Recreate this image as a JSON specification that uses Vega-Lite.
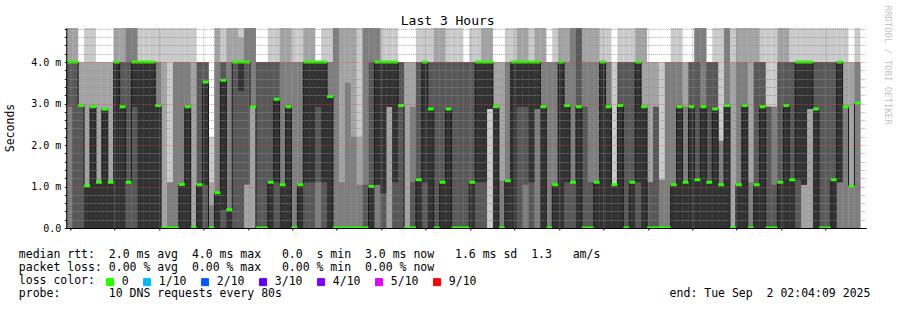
{
"$schema": "https://vega.github.io/schema/vega-lite/v6.json",
"width": 800, "height": 200,
"autosize": {"type": "none"},
"padding": {"left": 66.3, "top": 28, "right": 30.7, "bottom": 82},
"background": "white",
"view": {"stroke": null},
"title": {"text": "Last 3 Hours", "font": "DejaVu Sans Mono", "fontSize": 13, "fontWeight": "normal", "color": "black", "anchor": "middle", "frame": "group", "dx": -18.6, "dy": 37, "baseline": "alphabetic", "offset": 3.7},
"data": {"values": [
{"i":0,"j":1,"p1":0,"p2":0,"p3":0,"p4":2.92,"p5":4,"p6":4,"p7":4,"p8":4,"p9":5,"p10":5,"l":0},
{"i":1,"j":2,"p1":0,"p2":0,"p3":0,"p4":0,"p5":4,"p6":4,"p7":4,"p8":4,"p9":5,"p10":5,"l":0},
{"i":2,"j":3,"p1":0,"p2":0,"p3":0,"p4":0,"p5":2.95,"p6":2.95,"p7":2.95,"p8":2.95,"p9":4,"p10":4,"l":0},
{"i":3,"j":4,"p1":0,"p2":0,"p3":0,"p4":0,"p5":0,"p6":1.02,"p7":1.02,"p8":1.02,"p9":4,"p10":5,"l":0},
{"i":4,"j":5,"p1":0,"p2":0,"p3":0,"p4":0,"p5":0,"p6":2.92,"p7":2.92,"p8":2.92,"p9":4,"p10":5,"l":0},
{"i":5,"j":6,"p1":0,"p2":0,"p3":0,"p4":0,"p5":0,"p6":1.1,"p7":1.1,"p8":1.1,"p9":4,"p10":4,"l":0},
{"i":6,"j":7,"p1":0,"p2":0,"p3":0,"p4":0,"p5":0,"p6":2.86,"p7":2.86,"p8":2.86,"p9":4,"p10":4,"l":0},
{"i":7,"j":8,"p1":0,"p2":0,"p3":0,"p4":0,"p5":0,"p6":1.1,"p7":1.1,"p8":1.1,"p9":4,"p10":4,"l":0},
{"i":8,"j":9,"p1":0,"p2":0,"p3":0,"p4":0,"p5":0,"p6":4,"p7":4,"p8":4,"p9":5,"p10":5,"l":0},
{"i":9,"j":10,"p1":0,"p2":0,"p3":0,"p4":0,"p5":0,"p6":2.92,"p7":4,"p8":4,"p9":5,"p10":5,"l":0},
{"i":10,"j":11,"p1":0,"p2":0,"p3":0,"p4":0,"p5":1.1,"p6":1.1,"p7":4,"p8":5,"p9":5,"p10":5,"l":0},
{"i":11,"j":12,"p1":0,"p2":0,"p3":0,"p4":0,"p5":2.92,"p6":4,"p7":4,"p8":5,"p9":5,"p10":5,"l":0},
{"i":12,"j":13,"p1":0,"p2":0,"p3":0,"p4":0,"p5":0,"p6":4,"p7":4,"p8":4,"p9":4,"p10":5,"l":0},
{"i":13,"j":14,"p1":0,"p2":0,"p3":0,"p4":0,"p5":0,"p6":4,"p7":4,"p8":4,"p9":4,"p10":5,"l":0},
{"i":14,"j":15,"p1":0,"p2":0,"p3":0,"p4":0,"p5":0,"p6":4,"p7":4,"p8":4,"p9":4,"p10":5,"l":0},
{"i":15,"j":16,"p1":0,"p2":0,"p3":0,"p4":0,"p5":0,"p6":2.95,"p7":2.95,"p8":4,"p9":4,"p10":5,"l":0},
{"i":16,"j":17,"p1":0,"p2":0,"p3":0,"p4":0,"p5":0,"p6":0,"p7":0,"p8":0,"p9":4,"p10":5,"l":0},
{"i":17,"j":18,"p1":0,"p2":0,"p3":0,"p4":0,"p5":0,"p6":0,"p7":0,"p8":1.1,"p9":1.1,"p10":5,"l":0},
{"i":18,"j":19,"p1":0,"p2":0,"p3":0,"p4":0,"p5":0,"p6":0,"p7":0,"p8":4,"p9":4,"p10":5,"l":0},
{"i":19,"j":20,"p1":0,"p2":0,"p3":0,"p4":0,"p5":0,"p6":1.05,"p7":1.05,"p8":4,"p9":4,"p10":5,"l":0},
{"i":20,"j":21,"p1":0,"p2":0,"p3":0,"p4":0,"p5":0,"p6":2.92,"p7":2.92,"p8":4,"p9":4,"p10":5,"l":0},
{"i":21,"j":22,"p1":0,"p2":0,"p3":0,"p4":0,"p5":0,"p6":0,"p7":0,"p8":0,"p9":4,"p10":5,"l":0},
{"i":22,"j":23,"p1":0,"p2":0,"p3":0,"p4":0,"p5":0,"p6":1.04,"p7":4,"p8":4,"p9":4,"p10":4,"l":0},
{"i":23,"j":24,"p1":0,"p2":0,"p3":0,"p4":0,"p5":1.04,"p6":3.52,"p7":4,"p8":4,"p9":4,"p10":4,"l":0},
{"i":24,"j":25,"p1":0,"p2":0,"p3":0,"p4":0,"p5":0,"p6":0,"p7":0,"p8":0.55,"p9":1.1,"p10":2.2,"l":0},
{"i":25,"j":26,"p1":0,"p2":0,"p3":0,"p4":0,"p5":0,"p6":0.85,"p7":0.85,"p8":4,"p9":5,"p10":5,"l":0},
{"i":26,"j":27,"p1":0,"p2":0,"p3":0,"p4":0,"p5":0.44,"p6":3.56,"p7":4,"p8":4,"p9":4,"p10":5,"l":0},
{"i":27,"j":28,"p1":0,"p2":0,"p3":0,"p4":0,"p5":0,"p6":0.44,"p7":0.44,"p8":4,"p9":5,"p10":5,"l":0},
{"i":28,"j":29,"p1":0,"p2":0,"p3":0,"p4":0,"p5":4,"p6":4,"p7":4,"p8":4,"p9":5,"p10":5,"l":0},
{"i":29,"j":30,"p1":0,"p2":0,"p3":0,"p4":0,"p5":3.3,"p6":4,"p7":4,"p8":4,"p9":4.6,"p10":5,"l":0},
{"i":30,"j":31,"p1":0,"p2":0,"p3":1.05,"p4":1.05,"p5":4,"p6":4,"p7":4,"p8":5,"p9":5,"p10":5,"l":0},
{"i":31,"j":32,"p1":0,"p2":0,"p3":2.92,"p4":2.92,"p5":2.92,"p6":2.92,"p7":2.92,"p8":5,"p9":5,"p10":5,"l":0},
{"i":32,"j":33,"p1":0,"p2":0,"p3":0,"p4":0,"p5":0,"p6":0,"p7":4,"p8":4,"p9":4,"p10":4,"l":0},
{"i":33,"j":34,"p1":0,"p2":0,"p3":0,"p4":0,"p5":0,"p6":0,"p7":4,"p8":4,"p9":4,"p10":4,"l":0},
{"i":34,"j":35,"p1":0,"p2":0,"p3":0,"p4":0,"p5":0,"p6":1.1,"p7":4,"p8":4,"p9":4,"p10":5,"l":0},
{"i":35,"j":36,"p1":0,"p2":0,"p3":0,"p4":0,"p5":1.1,"p6":3.1,"p7":4,"p8":4,"p9":4,"p10":5,"l":0},
{"i":36,"j":37,"p1":0,"p2":0,"p3":0,"p4":0,"p5":0,"p6":1.04,"p7":1.04,"p8":4,"p9":5,"p10":5,"l":0},
{"i":37,"j":38,"p1":0,"p2":0,"p3":0,"p4":0,"p5":0,"p6":2.92,"p7":2.92,"p8":4,"p9":5,"p10":5,"l":0},
{"i":38,"j":39,"p1":0,"p2":0,"p3":0,"p4":0,"p5":0,"p6":0,"p7":0,"p8":4,"p9":4,"p10":5,"l":0},
{"i":39,"j":40,"p1":0,"p2":0,"p3":0,"p4":0,"p5":0,"p6":1.04,"p7":1.04,"p8":4,"p9":4,"p10":5,"l":0},
{"i":40,"j":41,"p1":0,"p2":0,"p3":0,"p4":0,"p5":1.1,"p6":4,"p7":4,"p8":4,"p9":5,"p10":5,"l":0},
{"i":41,"j":42,"p1":0,"p2":0,"p3":0,"p4":0,"p5":1.1,"p6":4,"p7":4,"p8":4,"p9":5,"p10":5,"l":0},
{"i":42,"j":43,"p1":0,"p2":0,"p3":0,"p4":1.1,"p5":2.92,"p6":4,"p7":4,"p8":4,"p9":4,"p10":4,"l":0},
{"i":43,"j":44,"p1":0,"p2":0,"p3":0,"p4":0,"p5":1.1,"p6":4,"p7":4,"p8":4,"p9":4,"p10":5,"l":0},
{"i":44,"j":45,"p1":0,"p2":0,"p3":0,"p4":0,"p5":0,"p6":3.17,"p7":3.17,"p8":4,"p9":4,"p10":5,"l":0},
{"i":45,"j":46,"p1":0,"p2":0,"p3":0,"p4":0,"p5":0,"p6":0,"p7":0,"p8":5,"p9":5,"p10":5,"l":0},
{"i":46,"j":47,"p1":0,"p2":0,"p3":0,"p4":0,"p5":0,"p6":0,"p7":0,"p8":1.1,"p9":5,"p10":5,"l":0},
{"i":47,"j":48,"p1":0,"p2":0,"p3":0,"p4":0,"p5":0,"p6":0,"p7":0,"p8":3.5,"p9":5,"p10":5,"l":0},
{"i":48,"j":49,"p1":0,"p2":0,"p3":0,"p4":0,"p5":0,"p6":0,"p7":0,"p8":2.2,"p9":5,"p10":5,"l":0},
{"i":49,"j":50,"p1":0,"p2":0,"p3":0,"p4":0,"p5":0,"p6":0,"p7":0,"p8":1.04,"p9":2.2,"p10":5,"l":0},
{"i":50,"j":51,"p1":0,"p2":0,"p3":0,"p4":0,"p5":0,"p6":0,"p7":1.04,"p8":5,"p9":5,"p10":5,"l":0},
{"i":51,"j":52,"p1":0,"p2":0,"p3":0,"p4":0,"p5":0,"p6":1,"p7":4,"p8":5,"p9":5,"p10":5,"l":0},
{"i":52,"j":53,"p1":0,"p2":0,"p3":0,"p4":1.04,"p5":1.04,"p6":4,"p7":4,"p8":5,"p9":5,"p10":5,"l":0},
{"i":53,"j":54,"p1":0,"p2":0,"p3":0,"p4":0,"p5":0.84,"p6":4,"p7":4,"p8":4,"p9":4,"p10":5,"l":0},
{"i":54,"j":55,"p1":0,"p2":0,"p3":2.92,"p4":2.92,"p5":2.92,"p6":4,"p7":4,"p8":4,"p9":4,"p10":5,"l":0},
{"i":55,"j":56,"p1":0,"p2":0,"p3":0,"p4":0,"p5":1.1,"p6":4,"p7":4,"p8":4,"p9":4,"p10":5,"l":0},
{"i":56,"j":57,"p1":0,"p2":0,"p3":0,"p4":0,"p5":2.95,"p6":2.95,"p7":4,"p8":4,"p9":4,"p10":4,"l":0},
{"i":57,"j":58,"p1":0,"p2":0,"p3":0,"p4":0,"p5":0,"p6":0,"p7":0,"p8":0,"p9":4,"p10":4,"l":0},
{"i":58,"j":59,"p1":0,"p2":0,"p3":0,"p4":0,"p5":0,"p6":0,"p7":1.1,"p8":2.92,"p9":4,"p10":4,"l":0},
{"i":59,"j":60,"p1":0,"p2":0,"p3":0,"p4":0,"p5":0,"p6":1.16,"p7":4,"p8":4,"p9":4,"p10":5,"l":0},
{"i":60,"j":61,"p1":0,"p2":0,"p3":0,"p4":0,"p5":1.1,"p6":4,"p7":4,"p8":4,"p9":4,"p10":5,"l":0},
{"i":61,"j":62,"p1":0,"p2":0,"p3":0,"p4":0,"p5":0,"p6":2.87,"p7":4,"p8":4,"p9":4,"p10":5,"l":0},
{"i":62,"j":63,"p1":0,"p2":0,"p3":0,"p4":0,"p5":0,"p6":0,"p7":4,"p8":4,"p9":5,"p10":5,"l":0},
{"i":63,"j":64,"p1":0,"p2":0,"p3":0,"p4":0,"p5":0,"p6":1.1,"p7":4,"p8":4,"p9":5,"p10":5,"l":0},
{"i":64,"j":65,"p1":0,"p2":0,"p3":0,"p4":0,"p5":0,"p6":2.87,"p7":4,"p8":4,"p9":4,"p10":5,"l":0},
{"i":65,"j":66,"p1":0,"p2":0,"p3":0,"p4":0,"p5":0,"p6":0,"p7":4,"p8":4,"p9":4,"p10":5,"l":0},
{"i":66,"j":67,"p1":0,"p2":0,"p3":0,"p4":0,"p5":0,"p6":0,"p7":4,"p8":4,"p9":4,"p10":5,"l":0},
{"i":67,"j":68,"p1":0,"p2":0,"p3":0,"p4":0,"p5":0,"p6":0,"p7":4,"p8":4,"p9":4,"p10":4,"l":0},
{"i":68,"j":69,"p1":0,"p2":0,"p3":0,"p4":0,"p5":0,"p6":1.1,"p7":4,"p8":4,"p9":4,"p10":5,"l":0},
{"i":69,"j":70,"p1":0,"p2":0,"p3":0,"p4":0,"p5":1.1,"p6":4,"p7":4,"p8":4,"p9":4,"p10":5,"l":0},
{"i":70,"j":71,"p1":0,"p2":0,"p3":0,"p4":0,"p5":1.1,"p6":4,"p7":4,"p8":4,"p9":5,"p10":5,"l":0},
{"i":71,"j":72,"p1":0,"p2":2.87,"p3":2.87,"p4":2.87,"p5":2.87,"p6":4,"p7":4,"p8":4,"p9":5,"p10":5,"l":0},
{"i":72,"j":73,"p1":0,"p2":0,"p3":0,"p4":0,"p5":0,"p6":2.92,"p7":2.92,"p8":2.92,"p9":4,"p10":4,"l":0},
{"i":73,"j":74,"p1":0,"p2":0,"p3":0,"p4":0,"p5":0,"p6":0,"p7":0,"p8":1.14,"p9":4,"p10":4,"l":0},
{"i":74,"j":75,"p1":0,"p2":0,"p3":0,"p4":0,"p5":0,"p6":1.14,"p7":1.14,"p8":4,"p9":4,"p10":5,"l":0},
{"i":75,"j":76,"p1":0,"p2":0,"p3":0,"p4":0,"p5":0,"p6":4,"p7":4,"p8":4,"p9":4,"p10":5,"l":0},
{"i":76,"j":77,"p1":0,"p2":0,"p3":0,"p4":0,"p5":2.92,"p6":4,"p7":4,"p8":4,"p9":5,"p10":5,"l":0},
{"i":77,"j":78,"p1":0,"p2":0,"p3":0,"p4":1.04,"p5":2.92,"p6":4,"p7":4,"p8":4,"p9":5,"p10":5,"l":0},
{"i":78,"j":79,"p1":0,"p2":0,"p3":0,"p4":0,"p5":1.1,"p6":4,"p7":4,"p8":4,"p9":4,"p10":5,"l":0},
{"i":79,"j":80,"p1":0,"p2":0,"p3":0,"p4":2.87,"p5":2.87,"p6":4,"p7":4,"p8":4,"p9":5,"p10":5,"l":0},
{"i":80,"j":81,"p1":0,"p2":0,"p3":0,"p4":0,"p5":0,"p6":2.92,"p7":2.92,"p8":4,"p9":5,"p10":5,"l":0},
{"i":81,"j":82,"p1":0,"p2":0,"p3":0,"p4":0,"p5":0,"p6":0,"p7":0,"p8":4,"p9":4,"p10":4,"l":0},
{"i":82,"j":83,"p1":0,"p2":0,"p3":0,"p4":0,"p5":0,"p6":1.04,"p7":1.04,"p8":4,"p9":4,"p10":5,"l":0},
{"i":83,"j":84,"p1":0,"p2":0,"p3":0,"p4":0,"p5":0,"p6":4,"p7":4,"p8":4,"p9":5,"p10":5,"l":0},
{"i":84,"j":85,"p1":0,"p2":0,"p3":0,"p4":0,"p5":1.1,"p6":2.95,"p7":2.95,"p8":4,"p9":5,"p10":5,"l":0},
{"i":85,"j":86,"p1":0,"p2":0,"p3":0,"p4":0,"p5":1.1,"p6":1.1,"p7":1.1,"p8":5,"p9":5,"p10":5,"l":0},
{"i":86,"j":87,"p1":0,"p2":0,"p3":0,"p4":0,"p5":0,"p6":2.92,"p7":5,"p8":5,"p9":5,"p10":5,"l":0},
{"i":87,"j":88,"p1":0,"p2":0,"p3":0,"p4":0,"p5":0,"p6":0,"p7":2.92,"p8":4,"p9":5,"p10":5,"l":0},
{"i":88,"j":89,"p1":0,"p2":0,"p3":0,"p4":0,"p5":0,"p6":0,"p7":1.1,"p8":4,"p9":5,"p10":5,"l":0},
{"i":89,"j":90,"p1":0,"p2":0,"p3":0,"p4":0,"p5":0,"p6":1.1,"p7":1.1,"p8":4,"p9":5,"p10":5,"l":0},
{"i":90,"j":91,"p1":0,"p2":0,"p3":0,"p4":0,"p5":0,"p6":4,"p7":4,"p8":4,"p9":4,"p10":5,"l":0},
{"i":91,"j":92,"p1":0,"p2":0,"p3":0,"p4":0,"p5":0,"p6":2.92,"p7":2.92,"p8":4,"p9":4,"p10":5,"l":0},
{"i":92,"j":93,"p1":0,"p2":0,"p3":0,"p4":0,"p5":0,"p6":1.04,"p7":1.04,"p8":1.04,"p9":1.04,"p10":4,"l":0},
{"i":93,"j":94,"p1":0,"p2":0,"p3":0,"p4":0,"p5":0,"p6":2.95,"p7":4,"p8":4,"p9":4,"p10":5,"l":0},
{"i":94,"j":95,"p1":0,"p2":0,"p3":0,"p4":0,"p5":0,"p6":0,"p7":4,"p8":4,"p9":4,"p10":5,"l":0},
{"i":95,"j":96,"p1":0,"p2":0,"p3":0,"p4":0,"p5":0,"p6":1.1,"p7":4,"p8":4,"p9":4,"p10":5,"l":0},
{"i":96,"j":97,"p1":0,"p2":0,"p3":0,"p4":0,"p5":1.1,"p6":4,"p7":4,"p8":4,"p9":5,"p10":5,"l":0},
{"i":97,"j":98,"p1":0,"p2":0,"p3":0,"p4":0,"p5":0,"p6":2.92,"p7":2.92,"p8":2.92,"p9":5,"p10":5,"l":0},
{"i":98,"j":99,"p1":0,"p2":0,"p3":0,"p4":0,"p5":0,"p6":0,"p7":1.1,"p8":1.1,"p9":4,"p10":4,"l":0},
{"i":99,"j":100,"p1":0,"p2":0,"p3":0,"p4":0,"p5":0,"p6":0,"p7":2.92,"p8":2.92,"p9":4,"p10":4,"l":0},
{"i":100,"j":101,"p1":0,"p2":0,"p3":0,"p4":0,"p5":0,"p6":0,"p7":0,"p8":1.16,"p9":1.16,"p10":4,"l":0},
{"i":101,"j":102,"p1":0,"p2":0,"p3":0,"p4":0,"p5":0,"p6":0,"p7":0,"p8":4,"p9":4,"p10":4,"l":0},
{"i":102,"j":103,"p1":0,"p2":0,"p3":0,"p4":0,"p5":0,"p6":1.04,"p7":1.04,"p8":4,"p9":4,"p10":5,"l":0},
{"i":103,"j":104,"p1":0,"p2":0,"p3":0,"p4":0,"p5":0,"p6":2.92,"p7":2.92,"p8":4,"p9":4,"p10":5,"l":0},
{"i":104,"j":105,"p1":0,"p2":0,"p3":0,"p4":0,"p5":0,"p6":1.1,"p7":1.1,"p8":2.92,"p9":4,"p10":4,"l":0},
{"i":105,"j":106,"p1":0,"p2":0,"p3":0,"p4":0,"p5":0,"p6":2.92,"p7":4,"p8":4,"p9":4,"p10":4,"l":0},
{"i":106,"j":107,"p1":0,"p2":0,"p3":0,"p4":0,"p5":0,"p6":1.16,"p7":4,"p8":5,"p9":5,"p10":5,"l":0},
{"i":107,"j":108,"p1":0,"p2":0,"p3":0,"p4":0,"p5":0,"p6":2.92,"p7":2.92,"p8":5,"p9":5,"p10":5,"l":0},
{"i":108,"j":109,"p1":0,"p2":0,"p3":0,"p4":0,"p5":0,"p6":1.1,"p7":4,"p8":4,"p9":4,"p10":4,"l":0},
{"i":109,"j":110,"p1":0,"p2":0,"p3":0,"p4":0,"p5":0,"p6":2.87,"p7":4,"p8":4,"p9":4,"p10":5,"l":0},
{"i":110,"j":111,"p1":0,"p2":0,"p3":0,"p4":0,"p5":0,"p6":1.04,"p7":1.04,"p8":2.1,"p9":2.1,"p10":5,"l":0},
{"i":111,"j":112,"p1":0,"p2":0,"p3":0,"p4":0,"p5":0,"p6":2.95,"p7":2.95,"p8":5,"p9":5,"p10":5,"l":0},
{"i":112,"j":113,"p1":0,"p2":0,"p3":0,"p4":0,"p5":0,"p6":0,"p7":0,"p8":0,"p9":4,"p10":5,"l":0},
{"i":113,"j":114,"p1":0,"p2":0,"p3":0,"p4":0,"p5":0,"p6":1.04,"p7":1.04,"p8":4,"p9":5,"p10":5,"l":0},
{"i":114,"j":115,"p1":0,"p2":0,"p3":0,"p4":0,"p5":0,"p6":2.95,"p7":2.95,"p8":4,"p9":5,"p10":5,"l":0},
{"i":115,"j":116,"p1":0,"p2":0,"p3":0,"p4":0,"p5":0,"p6":0,"p7":0,"p8":1.1,"p9":5,"p10":5,"l":0},
{"i":116,"j":117,"p1":0,"p2":0,"p3":0,"p4":0,"p5":0,"p6":1.04,"p7":4,"p8":4,"p9":5,"p10":5,"l":0},
{"i":117,"j":118,"p1":0,"p2":0,"p3":0,"p4":0,"p5":0,"p6":2.92,"p7":4,"p8":4,"p9":4,"p10":5,"l":0},
{"i":118,"j":119,"p1":0,"p2":0,"p3":0,"p4":0,"p5":0,"p6":0,"p7":2.92,"p8":2.92,"p9":2.92,"p10":5,"l":0},
{"i":119,"j":120,"p1":0,"p2":0,"p3":0,"p4":0,"p5":0,"p6":0,"p7":1.04,"p8":2.92,"p9":2.92,"p10":5,"l":0},
{"i":120,"j":121,"p1":0,"p2":0,"p3":0,"p4":0,"p5":0,"p6":1.1,"p7":4,"p8":4,"p9":5,"p10":5,"l":0},
{"i":121,"j":122,"p1":0,"p2":0,"p3":0,"p4":0,"p5":0,"p6":2.95,"p7":4,"p8":4,"p9":5,"p10":5,"l":0},
{"i":122,"j":123,"p1":0,"p2":0,"p3":0,"p4":0,"p5":0,"p6":1.16,"p7":4,"p8":4,"p9":4,"p10":5,"l":0},
{"i":123,"j":124,"p1":0,"p2":0,"p3":0,"p4":0,"p5":1.16,"p6":4,"p7":4,"p8":4,"p9":4,"p10":5,"l":0},
{"i":124,"j":125,"p1":0,"p2":0,"p3":1.04,"p4":1.04,"p5":1.04,"p6":4,"p7":4,"p8":4,"p9":4,"p10":5,"l":0},
{"i":125,"j":126,"p1":0,"p2":0,"p3":2.87,"p4":2.87,"p5":2.87,"p6":4,"p7":4,"p8":4,"p9":4,"p10":5,"l":0},
{"i":126,"j":127,"p1":0,"p2":0,"p3":0,"p4":0,"p5":0,"p6":2.87,"p7":4,"p8":4,"p9":4,"p10":5,"l":0},
{"i":127,"j":128,"p1":0,"p2":0,"p3":0,"p4":0,"p5":0,"p6":0,"p7":4,"p8":4,"p9":4,"p10":5,"l":0},
{"i":128,"j":129,"p1":0,"p2":0,"p3":0,"p4":0,"p5":0,"p6":0,"p7":4,"p8":4,"p9":4,"p10":5,"l":0},
{"i":129,"j":130,"p1":0,"p2":0,"p3":0,"p4":0,"p5":0,"p6":1.16,"p7":4,"p8":4,"p9":4,"p10":5,"l":0},
{"i":130,"j":131,"p1":0,"p2":0,"p3":0,"p4":1.1,"p5":1.1,"p6":4,"p7":4,"p8":4,"p9":4,"p10":5,"l":0},
{"i":131,"j":132,"p1":0,"p2":0,"p3":0,"p4":2.92,"p5":2.92,"p6":2.92,"p7":2.92,"p8":2.92,"p9":4,"p10":5,"l":0},
{"i":132,"j":133,"p1":0,"p2":0,"p3":0,"p4":1,"p5":1,"p6":1,"p7":1,"p8":1,"p9":4,"p10":4,"l":0},
{"i":133,"j":134,"p1":0,"p2":0,"p3":0,"p4":3.01,"p5":3.01,"p6":3.01,"p7":3.01,"p8":4,"p9":4,"p10":5,"l":0}
]},
"resolve": {"scale": {"y": "independent"}, "axis": {"y": "independent"}},
"layer": [
{"mark": {"type": "rect", "color": "#cacaca", "clip": true},
 "encoding": {
  "x": {"field": "i", "type": "quantitative", "scale": {"domain": [0, 135], "nice": false, "zero": false},
   "axis": {
    "values": [0.6375,4.3875,8.1375,11.8875,15.6375,19.3875,23.1375,26.8875,30.6375,34.3875,38.1375,41.8875,45.6375,49.3875,53.1375,56.8875,60.6375,64.3875,68.1375,71.8875,75.6375,79.3875,83.1375,86.8875,90.6375,94.3875,98.1375,101.8875,105.6375,109.3875,113.1375,116.8875,120.6375,124.3875,128.1375,131.8875],
    "labelExpr": "round((datum.value-0.6375)/3.75) % 4 == 3 ? ['23:20','23:40','00:00','00:20','00:40','01:00','01:20','01:40','02:00'][floor(round((datum.value-0.6375)/3.75)/4)] : ''",
    "labelFont": "DejaVu Sans Mono", "labelFontSize": 10, "labelColor": "black", "labelPadding": 2, "labelOverlap": false, "labelFlush": false, "labelBound": false,
    "tickSize": 2, "tickColor": "black", "domainColor": "black", "domainWidth": 1,
    "grid": true, "gridDash": [1, 1],
    "gridColor": {"condition": {"test": "round((datum.value-0.6375)/3.75) % 4 == 3", "value": "rgba(222,79,79,0.6)"}, "value": "rgba(143,143,143,0.75)"},
    "zindex": 1,
    "title": ["median rtt:\u00a0\u00a02.0 ms avg\u00a0\u00a04.0 ms max\u00a0\u00a0\u00a00.0\u00a0\u00a0s min\u00a0\u00a03.0 ms now\u00a0\u00a0\u00a01.6 ms sd\u00a0\u00a01.3\u00a0\u00a0\u00a0am/s",
              "packet loss:\u00a00.00 % avg\u00a0\u00a00.00 % max\u00a0\u00a0\u00a00.00 % min\u00a0\u00a00.00 % now",
              "loss color:",
              "probe:\u00a0\u00a0\u00a0\u00a0\u00a0\u00a0\u00a010 DNS requests every 80s\u00a0\u00a0\u00a0\u00a0\u00a0\u00a0\u00a0\u00a0\u00a0\u00a0\u00a0\u00a0\u00a0\u00a0\u00a0\u00a0\u00a0\u00a0\u00a0\u00a0\u00a0\u00a0\u00a0\u00a0\u00a0\u00a0\u00a0\u00a0\u00a0\u00a0\u00a0\u00a0\u00a0\u00a0\u00a0\u00a0\u00a0\u00a0\u00a0\u00a0\u00a0\u00a0\u00a0\u00a0\u00a0\u00a0\u00a0\u00a0\u00a0\u00a0\u00a0\u00a0\u00a0\u00a0\u00a0\u00a0end: Tue Sep\u00a0\u00a02 02:04:09 2025"],
    "titleFont": "DejaVu Sans Mono", "titleFontSize": 11.5, "titleFontWeight": "normal", "titleColor": "black",
    "titleAlign": "left", "titleAnchor": "start", "titleBaseline": "top", "titleX": -48, "titleY": 20, "titleLineHeight": 13.3, "titleLimit": 3000
   }},
  "x2": {"field": "j"},
  "y": {"field": "p1", "type": "quantitative", "scale": {"domain": [0, 4.82], "nice": false, "zero": false},
   "axis": {
    "values": [0,0.2,0.4,0.6,0.8,1,1.2,1.4,1.6,1.8,2,2.2,2.4,2.6,2.8,3,3.2,3.4,3.6,3.8,4,4.2,4.4,4.6,4.8],
    "labelExpr": "abs(datum.value-round(datum.value)) < 0.01 ? (datum.value == 0 ? '0.0\u00a0\u00a0' : format(datum.value, '.1f') + ' m') : ''",
    "labelFont": "DejaVu Sans Mono", "labelFontSize": 10, "labelColor": "black", "labelPadding": 3.5, "labelOverlap": false, "labelFlush": false, "labelBound": false, "labelBaseline": "middle",
    "tickSize": 2, "tickColor": "black", "domainColor": "black", "domainWidth": 1,
    "grid": true, "gridDash": [1, 1],
    "gridColor": {"condition": {"test": "abs(datum.value-round(datum.value)) < 0.01", "value": "rgba(222,79,79,0.6)"}, "value": "rgba(143,143,143,0.75)"},
    "zindex": 1,
    "title": "Seconds", "titleFont": "DejaVu Sans Mono", "titleFontSize": 11.5, "titleFontWeight": "normal", "titleColor": "black",
    "titleAngle": -90, "titleX": -56.3, "titleY": 99.5, "titleAlign": "center", "titleBaseline": "middle"
   }},
  "y2": {"field": "p10"}
 }},
{"mark": {"type": "rect", "color": "#a4a4a4", "clip": true},
 "encoding": {"x": {"field": "i", "type": "quantitative"}, "x2": {"field": "j"},
  "y": {"field": "p2", "type": "quantitative", "scale": {"domain": [0, 4.82], "nice": false, "zero": false}, "axis": null}, "y2": {"field": "p9"}}},
{"mark": {"type": "rect", "color": "#7e7e7e", "clip": true},
 "encoding": {"x": {"field": "i", "type": "quantitative"}, "x2": {"field": "j"},
  "y": {"field": "p3", "type": "quantitative", "scale": {"domain": [0, 4.82], "nice": false, "zero": false}, "axis": null}, "y2": {"field": "p8"}}},
{"mark": {"type": "rect", "color": "#585858", "clip": true},
 "encoding": {"x": {"field": "i", "type": "quantitative"}, "x2": {"field": "j"},
  "y": {"field": "p4", "type": "quantitative", "scale": {"domain": [0, 4.82], "nice": false, "zero": false}, "axis": null}, "y2": {"field": "p7"}}},
{"mark": {"type": "rect", "color": "#323232", "clip": true},
 "encoding": {"x": {"field": "i", "type": "quantitative"}, "x2": {"field": "j"},
  "y": {"field": "p5", "type": "quantitative", "scale": {"domain": [0, 4.82], "nice": false, "zero": false}, "axis": null}, "y2": {"field": "p6"}}},
{"mark": {"type": "line", "interpolate": "step-after", "color": "#1a1a1a", "strokeWidth": 1, "clip": true},
 "encoding": {"x": {"field": "i", "type": "quantitative"},
  "y": {"field": "p6", "type": "quantitative", "scale": {"domain": [0, 4.82], "nice": false, "zero": false},
   "axis": {"orient": "right", "domain": false, "ticks": false, "labels": false, "grid": false,
    "title": "RRDTOOL / TOBI OETIKER", "titleAngle": 90, "titleX": 20.7, "titleY": -23, "titleAlign": "left", "titleBaseline": "middle",
    "titleFont": "DejaVu Sans Mono", "titleFontSize": 9, "titleFontWeight": "normal", "titleColor": "#c4c4c4"}}}},
{"mark": {"type": "rule", "strokeWidth": 3, "strokeCap": "butt", "clip": true},
 "encoding": {"x": {"field": "i", "type": "quantitative"}, "x2": {"field": "j"},
  "y": {"field": "p6", "type": "quantitative", "scale": {"domain": [0, 4.82], "nice": false, "zero": false}, "axis": null},
  "color": {"field": "l", "type": "ordinal",
   "scale": {"domain": [0, 0.1, 0.2, 0.3, 0.4, 0.5, 0.9], "range": ["#26ff00", "#00b8ff", "#0059ff", "#5e00ff", "#7e00ff", "#dd00ff", "#ff0000"]},
   "legend": {"title": null, "orient": "none", "legendX": 38, "legendY": 248, "direction": "horizontal",
    "labelFont": "DejaVu Sans Mono", "labelFontSize": 11.5, "labelColor": "black", "labelOffset": 6, "columnPadding": 12, "padding": 0, "labelLimit": 200,
    "labelExpr": "datum.value == 0 ? '0' : round(datum.value * 10) + '/10'",
    "symbolType": "square", "symbolSize": 49, "symbolStrokeWidth": 1,
    "encode": {"symbols": {"update": {"fill": {"scale": "color", "field": "value"}, "stroke": {"value": "black"}, "strokeWidth": {"value": 1}, "shape": {"value": "square"}, "size": {"value": 49}, "opacity": {"value": 1}}}}
   }}
 }}
]
}
